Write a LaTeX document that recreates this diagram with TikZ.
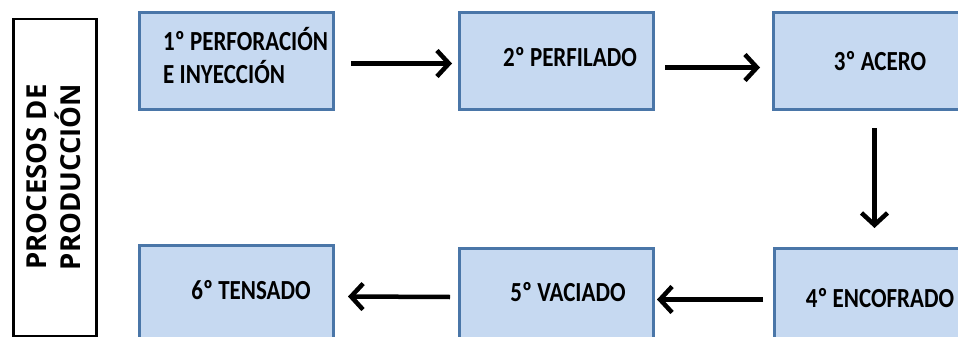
\documentclass[tikz,border=0pt]{standalone}
\usepackage{fontspec}
\usepackage{graphicx}
\setmainfont{Carlito}
\newfontfamily\sidefont{Open Sans}
\usetikzlibrary{arrows.meta}
\definecolor{boxfill}{HTML}{C6D9F1}
\definecolor{boxline}{HTML}{4A76A8}
\newcommand{\tall}[1]{\scalebox{1}[1.2]{#1}}
\tikzset{
  stepbox/.style={draw=boxline, line width=3pt, fill=boxfill, minimum width=194pt, minimum height=97pt, inner sep=0pt, anchor=north west},
  lbl/.style={font=\fontsize{23}{25}\selectfont\bfseries, inner sep=0pt, text=black},
  arr/.style={line width=4.5pt, -{Straight Barb[length=12pt,width=26pt]}},
}
\begin{document}
\begin{tikzpicture}[x=1pt,y=-1pt]
\useasboundingbox (0,0) rectangle (958,337);
\clip (0,0) rectangle (958,337);
\fill[white] (0,0) rectangle (958,337);
% side box
\node[draw=black, line width=2.5pt, minimum width=83pt, minimum height=317pt, anchor=north west, inner sep=0pt] (side) at (12,18) {};
\node[rotate=90, align=center, font=\sidefont\fontsize{27.5}{34}\selectfont\bfseries, inner sep=0pt] (sidetext) at (54,177) {PROCESOS DE\\PRODUCCIÓN};
% boxes
\node[stepbox] (b1) at (138,11) {};
\node[stepbox] (b2) at (458,11) {};
\node[stepbox] (b3) at (772,11) {};
\node[stepbox] (b4) at (773,247) {};
\node[stepbox] (b5) at (458,247) {};
\node[stepbox] (b6) at (138,244) {};
% labels
\node[lbl, anchor=west] (t1) at (163,60) {\tall{\begin{tabular}{@{}l@{}}1º PERFORACIÓN\\E INYECCIÓN\end{tabular}}};
\node[lbl] (t2) at (570,57) {\tall{2º PERFILADO}};
\node[lbl] (t3) at (880,61) {\tall{3º ACERO}};
\node[lbl] (t4) at (880,298) {\tall{4º ENCOFRADO}};
\node[lbl] (t5) at (568,292) {\tall{5º VACIADO}};
\node[lbl] (t6) at (251,290) {\tall{6º TENSADO}};
% arrows
\draw[arr] ([shift={(16,2.5)}]b1.east) -- ([shift={(-6,2.5)}]b2.west);
\draw[arr] ([shift={(10,6.5)}]b2.east) -- ([shift={(-12,6.5)}]b3.west);
\draw[arr] ([shift={(4,17)}]b3.south) -- ([shift={(3,-19)}]b4.north);
\draw[arr] ([shift={(-10,2.5)}]b4.west) -- ([shift={(2,2.5)}]b5.east);
\draw[arr] ([shift={(-8,0)}]b5.west) -- ([shift={(13,2.5)}]b6.east);
\end{tikzpicture}
\end{document}
